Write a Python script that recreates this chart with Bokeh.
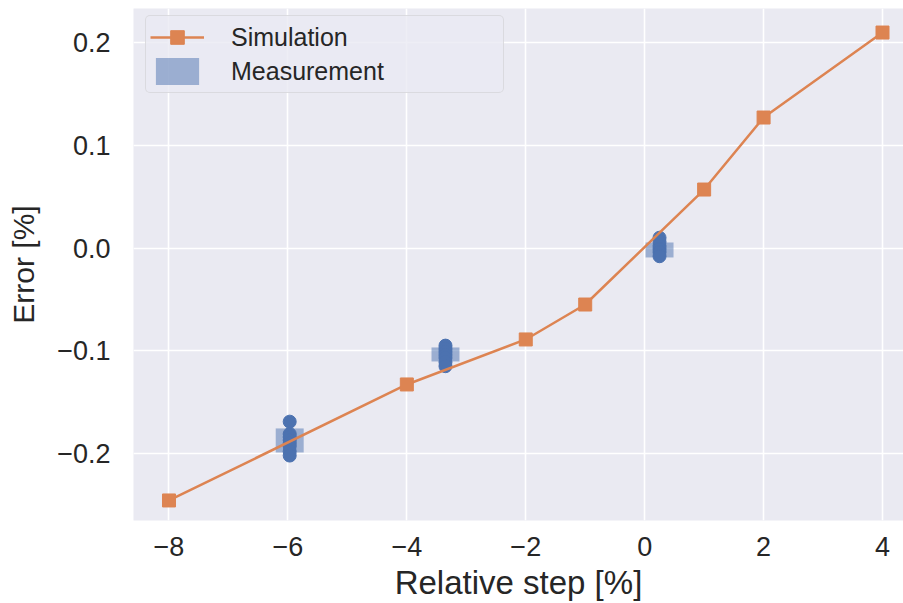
from bokeh.plotting import figure
from bokeh.models import ColumnDataSource, Legend, LegendItem, FixedTicker
from bokeh.embed import file_html
from bokeh.resources import INLINE

# ---- data ----
sim_x = [-8, -4, -2, -1, 1, 2, 4]
sim_y = [-0.2457, -0.1328, -0.0890, -0.0550, 0.0569, 0.1270, 0.2097]

meas_step = [-5.97, -3.35, 0.25]
meas_center = [-0.1873, -0.1036, -0.0019]
meas_span = [0.0234, 0.0136, 0.0146]

pts_x = [-5.97] * 8 + [-3.35] * 7 + [0.25] * 6
pts_y = [-0.169, -0.181, -0.184, -0.187, -0.190, -0.193, -0.198, -0.202,
         -0.095, -0.098, -0.101, -0.104, -0.107, -0.111, -0.115,
         0.010, 0.006, 0.002, -0.001, -0.004, -0.008]

x_ticks = [-8, -6, -4, -2, 0, 2, 4]
y_ticks = [-0.2, -0.1, 0.0, 0.1, 0.2]

BLUE = "#4C72B0"
ORANGE = "#DD8452"
TXT = "#262626"
FONT = "Liberation Sans"

p = figure(width=903, height=603, x_range=(-8.597, 4.353), y_range=(-0.2652, 0.2331),
           output_backend="svg", toolbar_location=None,
           min_border_left=133, min_border_right=0, min_border_top=8, min_border_bottom=83)
p.background_fill_color = "#EAEAF2"
p.border_fill_color = "white"
p.outline_line_color = None

for g in (p.xgrid, p.ygrid):
    g.grid_line_color = "white"
    g.grid_line_width = 1.6
p.xaxis.ticker = FixedTicker(ticks=x_ticks)
p.yaxis.ticker = FixedTicker(ticks=y_ticks)
p.xaxis.major_label_overrides = {t: ("\u2212" + str(abs(t)) if t < 0 else str(t)) for t in x_ticks}
p.yaxis.major_label_overrides = {t: ("\u2212%.1f" % abs(t) if t < 0 else "%.1f" % t) for t in y_ticks}

for ax in (p.xaxis, p.yaxis):
    ax.axis_line_color = None
    ax.major_tick_line_color = None
    ax.minor_tick_line_color = None
    ax.major_tick_out = 0
    ax.major_tick_in = 0
    ax.major_label_text_font = FONT
    ax.major_label_text_font_size = "27px"
    ax.major_label_text_color = TXT
    ax.axis_label_text_font = FONT
    ax.axis_label_text_color = TXT
    ax.axis_label_text_font_style = "normal"

p.xaxis.axis_label = "Relative step [%]"
p.yaxis.axis_label = "Error [%]"
p.xaxis.axis_label_text_font_size = "33px"
p.yaxis.axis_label_text_font_size = "30px"
p.yaxis.major_label_standoff = 23
p.xaxis.major_label_standoff = 16
p.xaxis.axis_label_standoff = 5
p.yaxis.axis_label_standoff = 14

meas_src = ColumnDataSource(dict(x=meas_step, y=meas_center, h=meas_span))
meas_r = p.rect("x", "y", width=0.47, height="h", source=meas_src,
                fill_color=BLUE, fill_alpha=0.5, line_color=None)

pts_src = ColumnDataSource(dict(x=pts_x, y=pts_y))
p.scatter("x", "y", source=pts_src, marker="circle", size=13,
          fill_color=BLUE, line_color=BLUE)

sim_src = ColumnDataSource(dict(x=sim_x, y=sim_y))
sim_line = p.line("x", "y", source=sim_src, line_color=ORANGE, line_width=2.5)
sim_mk = p.scatter("x", "y", source=sim_src, marker="square", size=13,
                   fill_color=ORANGE, line_color=ORANGE)

legend = Legend(items=[LegendItem(label="Simulation", renderers=[sim_line, sim_mk]),
                       LegendItem(label="Measurement", renderers=[meas_r])],
                location=(12, 427))
legend.label_text_font = FONT
legend.label_text_font_size = "25px"
legend.label_text_color = TXT
legend.glyph_width = 54
legend.glyph_height = 34
legend.label_height = 34
legend.label_width = 268
legend.label_standoff = 27
legend.spacing = 0
legend.padding = 4
legend.margin = 0
legend.background_fill_color = "#EAEAF2"
legend.background_fill_alpha = 0.8
legend.border_line_color = "#CCCCCC"
legend.border_line_width = 1.5
legend.border_radius = 5
p.add_layout(legend, "center")

open("out.html", "w").write(file_html(p, INLINE))
